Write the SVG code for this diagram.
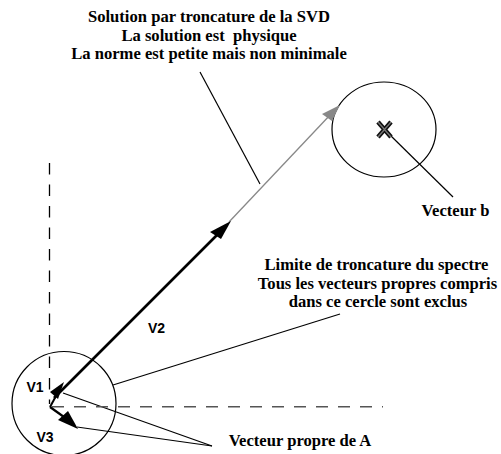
<svg xmlns="http://www.w3.org/2000/svg" width="501" height="454" viewBox="0 0 501 454">
<style>
.t{font-family:"Liberation Serif","Times New Roman",serif;font-weight:bold;font-size:16.6px;fill:#000;text-anchor:middle;white-space:pre}
.v{font-family:"Liberation Sans",Arial,sans-serif;font-weight:bold;font-size:14px;fill:#000}
.ln{stroke:#000;stroke-width:1.2;fill:none}
</style>
<rect width="501" height="454" fill="#fff"/>
<g id="connectors">
<line class="ln" x1="200" y1="72" x2="260" y2="184"/>
<line class="ln" x1="389" y1="134" x2="453" y2="197"/>
<line class="ln" x1="340" y1="314" x2="113" y2="385"/>
<line class="ln" x1="212" y1="446" x2="63" y2="393"/>
<line class="ln" x1="212" y1="446" x2="77" y2="427"/>
</g>
<g id="axes">
<line x1="49.5" y1="163" x2="49.5" y2="404" stroke="#000" stroke-width="1.3" stroke-dasharray="11.5 10"/>
<line x1="52" y1="406.7" x2="383" y2="406.7" stroke="#555" stroke-width="1.5" stroke-dasharray="12 10"/>
</g>
<g id="circle-b">
<ellipse cx="384" cy="129.5" rx="52" ry="47.5" class="ln"/>
</g>
<g id="cross-b">
<path d="M378 122 L391 137 M391 122 L378 137" stroke="#111" stroke-width="4.5"/>
<path d="M378 122 L391 137 M391 122 L378 137" stroke="#777" stroke-width="1.2"/>
</g>
<g id="circle-limit">
<circle cx="64" cy="403.5" r="52" class="ln"/>
</g>
<g id="solution">
<line x1="229" y1="222" x2="331" y2="114" stroke="#888" stroke-width="1.3"/>
<polygon points="340,105 322,114 332,121" fill="#888"/>
</g>
<g id="V2">
<line x1="54" y1="398" x2="224" y2="228" stroke="#000" stroke-width="2.6"/>
<polygon points="231,221 210,232 221,239" fill="#000"/>
</g>
<g id="V1">
<line x1="50" y1="407" x2="56" y2="396" stroke="#000" stroke-width="2"/>
<polygon points="64,382 50,392 58,399" fill="#000"/>
</g>
<g id="V3">
<line x1="50" y1="407" x2="64" y2="417" stroke="#000" stroke-width="2.2"/>
<polygon points="78,429 58,420 68,411" fill="#000"/>
</g>
<g id="labels">
<text class="v" x="26.5" y="391.7">V1</text>
<text class="v" x="148" y="333">V2</text>
<text class="v" x="36.5" y="441.7">V3</text>
</g>
<g id="note-solution">
<text class="t" x="209" y="22">Solution par troncature de la SVD</text>
<text class="t" x="209" y="40.5">La solution est  physique</text>
<text class="t" x="209" y="59">La norme est petite mais non minimale</text>
</g>
<g id="note-b">
<text class="t" x="455.5" y="215.5">Vecteur b</text>
</g>
<g id="note-limit">
<text class="t" x="376.5" y="270">Limite de troncature du spectre</text>
<text class="t" x="377.5" y="288.5">Tous les vecteurs propres compris</text>
<text class="t" x="378" y="307">dans ce cercle sont exclus</text>
</g>
<g id="note-eigen">
<text class="t" x="300" y="446">Vecteur propre de A</text>
</g>
</svg>
